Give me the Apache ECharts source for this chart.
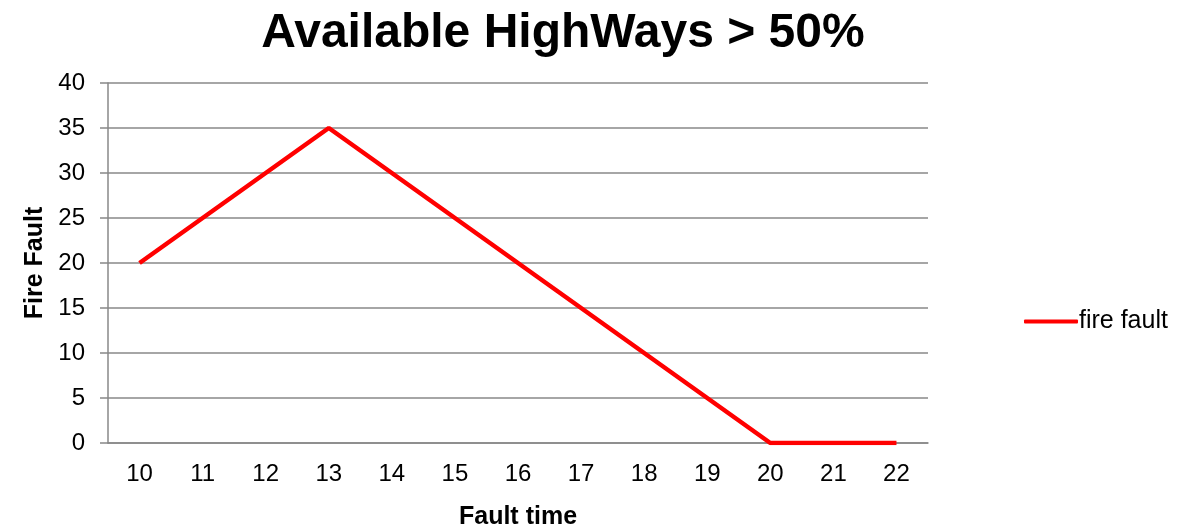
<!DOCTYPE html>
<html>
<head>
<meta charset="utf-8">
<script src="https://cdn.jsdelivr.net/npm/echarts@6.0.0/dist/echarts.min.js"></script>
<style>
  html, body { margin: 0; padding: 0; background: #fff; }
  #chart { width: 1178px; height: 524px; }
</style>
</head>
<body>
<div id="chart"></div>
<script>
  const faultTimes = ['10', '11', '12', '13', '14', '15', '16', '17', '18', '19', '20', '21', '22'];
  const fireFault = [20, 25, 30, 35, 30, 25, 20, 15, 10, 5, 0, 0, 0];
  const seriesName = 'fire fault';

  const font = '"Liberation Sans", Arial, sans-serif';
  const chart = echarts.init(document.getElementById('chart'));
  chart.setOption({
    animation: false,
    textStyle: { fontFamily: font },
    title: {
      text: 'Available HighWays > 50%',
      left: 558,
      textAlign: 'center',
      top: 5,
      textStyle: { fontSize: 48, fontWeight: 'bold', color: '#000', fontFamily: font }
    },
    legend: {
      data: [seriesName],
      left: 1019,
      top: 304,
      itemWidth: 54,
      itemHeight: 4,
      itemGap: 4,
      icon: 'roundRect',
      textStyle: { fontSize: 25, color: '#000', fontFamily: font, padding: [0, 0, 0, -4] }
    },
    grid: { left: 108, right: 250, top: 83, bottom: 81, containLabel: false, outerBoundsMode: 'none' },
    xAxis: {
      type: 'category',
      data: faultTimes,
      boundaryGap: true,
      name: 'Fault time',
      nameLocation: 'middle',
      nameGap: 62,
      nameTextStyle: { fontSize: 25, fontWeight: 'bold', color: '#000' },
      axisLine: { lineStyle: { color: '#888', width: 1.5 } },
      axisTick: { show: false },
      axisLabel: { fontSize: 24, color: '#000', margin: 19 }
    },
    yAxis: {
      type: 'value',
      min: 0,
      max: 40,
      interval: 5,
      name: 'Fire Fault',
      nameLocation: 'middle',
      nameRotate: 90,
      nameGap: 60,
      nameTextStyle: { fontSize: 25, fontWeight: 'bold', color: '#000' },
      axisLine: { show: true, lineStyle: { color: '#888', width: 1.5 } },
      axisTick: { show: true, length: 8, lineStyle: { color: '#888', width: 1.5 } },
      axisLabel: { fontSize: 24, color: '#000', margin: 23 },
      splitLine: { lineStyle: { color: '#888', width: 1.5 } }
    },
    series: [{
      name: seriesName,
      type: 'line',
      data: fireFault,
      symbol: 'none',
      lineStyle: { color: '#ff0000', width: 4.5 },
      itemStyle: { color: '#ff0000' }
    }]
  });
</script>
</body>
</html>
